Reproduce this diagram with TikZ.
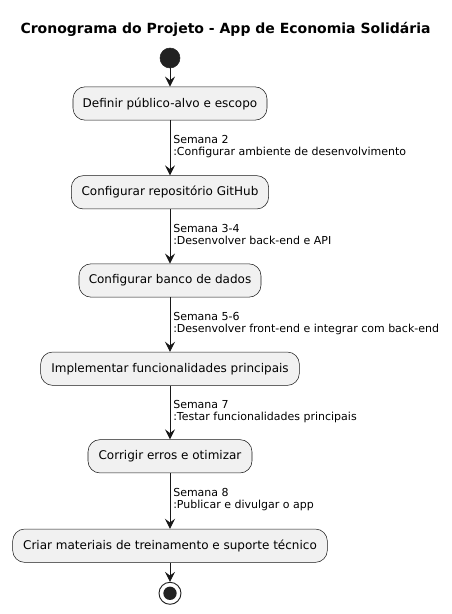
\documentclass[tikz,border=0pt]{standalone}
\usepackage{fontspec}
\setmainfont{DejaVu Sans}
\usetikzlibrary{arrows.meta}
\definecolor{boxfill}{HTML}{F1F1F1}
\definecolor{ink}{HTML}{181818}
\definecolor{dot}{HTML}{222222}
\begin{document}
\begin{tikzpicture}[x=0.75pt,y=-0.75pt,
  actbox/.style={draw=ink,line width=0.4pt,fill=boxfill,rounded corners=9pt,
    minimum height=25pt,inner xsep=0pt,inner ysep=0pt,font=\fontsize{9pt}{11pt}\selectfont},
  lbl/.style={anchor=base west,inner sep=0pt,font=\fontsize{8.25pt}{10pt}\selectfont},
  flow/.style={draw=ink,line width=0.65pt,-{Stealth[length=7.5pt,width=7.5pt,inset=2.8pt]}}]
\useasboundingbox (0,0) rectangle (451,614);
\node[font=\fontsize{10.5pt}{12pt}\selectfont\bfseries] (title) at (225.5,29) {Cronograma do Projeto - App de Economia Solidária};
\node[circle,fill=dot,draw=dot,minimum size=15pt,inner sep=0pt] (start) at (170,58) {};
\node[actbox,minimum width=145.5pt] (b1) at (170,103.5) {Definir público-alvo e escopo};
\node[actbox,minimum width=148pt] (b2) at (170,192.3) {Configurar repositório GitHub};
\node[actbox,minimum width=136.5pt] (b3) at (170,280.5) {Configurar banco de dados};
\node[actbox,minimum width=194pt] (b4) at (170,368.7) {Implementar funcionalidades principais};
\node[actbox,minimum width=123pt] (b5) at (170,456.3) {Corrigir erros e otimizar};
\node[actbox,minimum width=236pt] (b6) at (170,545.7) {Criar materiais de treinamento e suporte técnico};
\node[circle,draw=dot,fill=white,line width=0.7pt,minimum size=16.5pt,inner sep=0pt] (stop) at (170,593.3) {};
\node[circle,fill=dot,minimum size=10pt,inner sep=0pt] (stopin) at (stop.center) {};
\draw[flow] (start) -- (b1);
\draw[flow] (b1) -- (b2);
\draw[flow] (b2) -- (b3);
\draw[flow] (b3) -- (b4);
\draw[flow] (b4) -- (b5);
\draw[flow] (b5) -- (b6);
\draw[flow] (b6) -- (stop);
\node[lbl] (l1a) at (173,143.5) {Semana 2};
\node[lbl] (l1b) at (173,155.5) {:Configurar ambiente de desenvolvimento};
\node[lbl] (l2a) at (173,232) {Semana 3-4};
\node[lbl] (l2b) at (173,244) {:Desenvolver back-end e API};
\node[lbl] (l3a) at (173,320) {Semana 5-6};
\node[lbl] (l3b) at (173,332) {:Desenvolver front-end e integrar com back-end};
\node[lbl] (l4a) at (173,408) {Semana 7};
\node[lbl] (l4b) at (173,420) {:Testar funcionalidades principais};
\node[lbl] (l5a) at (173,496.5) {Semana 8};
\node[lbl] (l5b) at (173,508.5) {:Publicar e divulgar o app};
\end{tikzpicture}
\end{document}
